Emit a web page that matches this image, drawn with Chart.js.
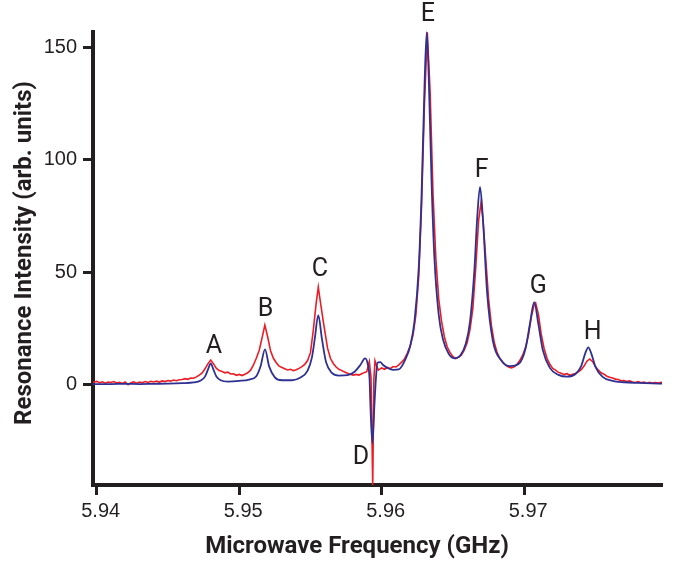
<!DOCTYPE html>
<html>
<head>
<meta charset="utf-8">
<title>Resonance spectrum</title>
<script src="https://cdn.jsdelivr.net/npm/chart.js@4.4.1/dist/chart.umd.min.js"></script>
<style>
  body { margin: 0; background: #fff; }
  canvas { display: block; }
</style>
</head>
<body>
<canvas id="mychart" width="677" height="563"></canvas>
<script>
const xTicks = [5.94, 5.95, 5.96, 5.97];
const yTicks = [0, 50, 100, 150];

// peak letters, placed in data units
const peakNames = ['A', 'B', 'C', 'D', 'E', 'F', 'G', 'H'];
const peakLabelX = [5.94823, 5.95185, 5.95567, 5.95855, 5.96324, 5.96702, 5.97099, 5.97480];
const peakLabelY = [16.8, 33.0, 50.8, -32.8, 164.9, 95.4, 43.4, 22.7];

// smooth (blue) trace
const fitFreq = [
  5.93974, 5.9410, 5.9420, 5.9430, 5.9440, 5.9450, 5.9460, 5.9468, 5.9473, 5.9476,
  5.9478, 5.9480, 5.9482, 5.9484, 5.9487, 5.9492, 5.9500, 5.9507, 5.9512, 5.9515,
  5.95181, 5.9521, 5.9525, 5.9530, 5.9537, 5.9543, 5.9548, 5.9551, 5.9553, 5.95555,
  5.9558, 5.9561, 5.9565, 5.9570, 5.9576, 5.9581, 5.9585, 5.95883, 5.9590, 5.95915,
  5.9592, 5.95934, 5.9595, 5.9596, 5.9597, 5.9599, 5.9601, 5.9604, 5.9608, 5.9612,
  5.9617, 5.9620, 5.9623, 5.9626, 5.9628, 5.9630, 5.96316, 5.9633, 5.9635, 5.9637,
  5.9640, 5.9643, 5.9647, 5.9651, 5.9655, 5.9659, 5.9662, 5.9665, 5.9667, 5.9669,
  5.9671, 5.9674, 5.9678, 5.9684, 5.9690, 5.9696, 5.9701, 5.9704, 5.9707, 5.9710,
  5.9713, 5.9718, 5.9724, 5.9730, 5.9736, 5.9740, 5.9743, 5.9745, 5.9747, 5.9750,
  5.9755, 5.9762, 5.9770, 5.9780, 5.9790, 5.97967
];
const fitVals = [
  0, 0, 0.1, 0, 0.1, 0.2, 0.4, 0.7, 1.6, 3.3,
  6.3, 9.2, 6.3, 3.4, 1.7, 1.1, 1.4, 2.0, 3.5, 7.9,
  15.5, 7.9, 3.0, 1.7, 1.7, 2.9, 6.0, 11.8, 20.0, 30.8,
  20.4, 9.7, 5.0, 3.8, 4.0, 5.5, 8.5, 11.5, 9.5, 2.0,
  -8.0, -26.5, -8.0, 3.0, 9.5, 9.8, 8.5, 7.2, 6.3, 6.5,
  11.5, 17.0, 28.0, 52.0, 85.0, 132.0, 157.0, 137.0, 90.0, 56.0,
  31.0, 20.0, 13.5, 11.5, 12.6, 18.0, 28.0, 50.5, 74.0, 88.0,
  74.0, 40.5, 19.3, 10.5, 8.0, 8.9, 16.0, 26.8, 36.6, 26.5,
  15.3, 7.2, 4.1, 3.3, 4.5, 8.0, 14.0, 16.4, 13.8, 7.7,
  3.2, 1.4, 0.8, 0.5, 0.3, 0.2
];

// measured (red) trace
const measFreq = [
  5.93974, 5.9400, 5.9402, 5.9404, 5.9406, 5.9408, 5.9410, 5.9412, 5.9414, 5.9416,
  5.9418, 5.9420, 5.9422, 5.9424, 5.9426, 5.9428, 5.9430, 5.9432, 5.9434, 5.9436,
  5.9438, 5.9440, 5.9442, 5.9444, 5.9446, 5.9448, 5.9450, 5.9452, 5.9454, 5.9456,
  5.9458, 5.9460, 5.9462, 5.9464, 5.9466, 5.9468, 5.9470, 5.9472, 5.9474, 5.9476,
  5.9478, 5.9480, 5.9482, 5.9484, 5.9486, 5.9488, 5.9490, 5.9492, 5.9494, 5.9496,
  5.9498, 5.9500, 5.9502, 5.9504, 5.9506, 5.9508, 5.9510, 5.9512, 5.9514, 5.9516,
  5.9518, 5.9520, 5.9522, 5.9524, 5.9526, 5.9528, 5.9530, 5.9532, 5.9534, 5.9536,
  5.9538, 5.9540, 5.9542, 5.9544, 5.9546, 5.9548, 5.9550, 5.9552, 5.9554, 5.95555,
  5.9557, 5.9559, 5.9560, 5.9562, 5.9564, 5.9566, 5.9568, 5.9570, 5.9572, 5.9574,
  5.9576, 5.9578, 5.9580, 5.9582, 5.9584, 5.9586, 5.9588, 5.95895, 5.95913, 5.95925,
  5.95937, 5.95945, 5.95953, 5.95965, 5.95976, 5.9600, 5.9602, 5.9604, 5.9606, 5.9608,
  5.9610, 5.9612, 5.9614, 5.9616, 5.9618, 5.9620, 5.9622, 5.9624, 5.9626, 5.9628,
  5.9630, 5.9632, 5.9634, 5.9636, 5.9638, 5.9640, 5.9642, 5.9644, 5.9646, 5.9648,
  5.9650, 5.9652, 5.9654, 5.9656, 5.9658, 5.9660, 5.9662, 5.9664, 5.9666, 5.9668,
  5.96697, 5.9671, 5.9673, 5.9675, 5.9677, 5.9679, 5.9681, 5.9683, 5.9685, 5.9687,
  5.9689, 5.9691, 5.9693, 5.9695, 5.9697, 5.9699, 5.9701, 5.9703, 5.9705, 5.9707,
  5.9708, 5.9710, 5.9712, 5.9714, 5.9716, 5.9718, 5.9720, 5.9722, 5.9724, 5.9726,
  5.9728, 5.9730, 5.9732, 5.9734, 5.9736, 5.9738, 5.9740, 5.9742, 5.9744, 5.9746,
  5.9748, 5.9750, 5.9752, 5.9754, 5.9756, 5.9758, 5.9760, 5.9762, 5.9764, 5.9766,
  5.9768, 5.9770, 5.9772, 5.9774, 5.9776, 5.9778, 5.9780, 5.9782, 5.9784, 5.9786,
  5.9788, 5.9790, 5.9792, 5.9794, 5.9796, 5.97967
];
const measVals = [
  0.8, 1.2, 0.6, 1.0, 0.4, 0.9, 0.7, 1.1, 0.5, 0.8,
  0.3, 0.9, -0.3, 0.6, 1.0, 0.4, 0.9, 0.6, 1.1, 0.7,
  1.2, 0.9, 1.3, 0.9, 1.4, 1.1, 1.6, 1.3, 1.8, 1.5,
  1.9, 2.0, 2.4, 2.1, 2.7, 2.6, 3.2, 4.0, 5.0, 6.8,
  9.0, 10.7, 9.0, 7.0, 6.0, 5.6, 5.0, 5.3, 4.5, 4.6,
  3.9, 4.3, 3.8, 4.4, 5.0, 6.2, 8.5, 11.5, 15.0, 20.5,
  26.3, 21.0, 14.8, 11.5, 9.5, 8.0, 7.4, 6.8, 6.3, 6.6,
  6.0, 6.4, 7.0, 7.8, 8.8, 10.5, 14.0, 24.0, 36.0, 43.2,
  36.5, 28.0, 24.0, 16.0, 11.5, 9.2, 7.6, 6.6, 6.0, 5.4,
  4.8, 4.4, 4.0, 4.3, 4.0, 4.6, 5.2, 5.5, 10.0, 3.0,
  -45.0, 2.0, 10.4, 8.0, 6.2, 7.2, 6.6, 7.4, 6.9, 7.8,
  7.6, 8.6, 9.8, 11.2, 13.8, 17.0, 22.0, 31.0, 48.0, 80.0,
  125.0, 157.0, 130.0, 85.0, 56.0, 38.0, 28.0, 21.0, 16.5, 14.0,
  12.2, 11.4, 12.0, 13.0, 15.2, 18.5, 24.5, 34.0, 52.0, 73.0,
  81.0, 74.0, 56.0, 38.0, 26.0, 18.5, 14.0, 11.4, 9.6, 8.4,
  7.6, 7.2, 7.7, 8.8, 10.6, 13.0, 16.5, 22.0, 30.0, 35.5,
  36.2, 31.0, 22.0, 15.8, 11.5, 8.8, 7.0, 6.2, 5.2, 4.8,
  4.2, 4.6, 3.9, 4.4, 4.7, 5.4, 6.4, 8.0, 10.2, 11.2,
  10.0, 7.8, 6.2, 5.0, 4.4, 3.5, 3.0, 2.7, 2.2, 2.0,
  1.5, 1.6, 1.1, 1.4, 0.9, 0.7, 1.1, 0.6, 0.9, 0.4,
  0.8, 0.4, 0.7, 0.5, 0.8, 0.6
];

const ink = '#231f20';
const ctx = document.getElementById('mychart').getContext('2d');

function toPoints(xs, ys) {
  let pts = [];
  for (let i = 0; i < xs.length; i++) pts.push({ x: xs[i], y: ys[i] });
  return pts;
}

const peakLetters = {
  id: 'peakLetters',
  afterDatasetsDraw(chart) {
    const c = chart.ctx;
    const sx = chart.scales.x, sy = chart.scales.y;
    c.save();
    c.fillStyle = ink;
    c.font = '25px Roboto';
    c.textAlign = 'center';
    c.textBaseline = 'middle';
    for (let i = 0; i < peakNames.length; i++) {
      c.fillText(peakNames[i], sx.getPixelForValue(peakLabelX[i]), sy.getPixelForValue(peakLabelY[i]));
    }
    c.restore();
  }
};

const axisTitles = {
  id: 'axisTitles',
  afterDraw(chart) {
    const c = chart.ctx;
    c.save();
    c.fillStyle = ink;
    c.font = 'bold 24px Roboto';
    c.textAlign = 'center';
    c.textBaseline = 'middle';
    c.fillText('Microwave Frequency (GHz)', 357, 547);
    c.translate(25, 253);
    c.rotate(-Math.PI / 2);
    c.fillText('Resonance Intensity (arb. units)', 0, 0);
    c.restore();
  }
};

const lineClip = { left: 0, top: 5, right: 0, bottom: 0 };

let obj = {
  type: 'line',
  data: {
    datasets: [{
        label: 'fit',
        data: toPoints(fitFreq, fitVals),
        borderColor: '#2e3192',
        borderWidth: 1.8,
        pointRadius: 0,
        cubicInterpolationMode: 'monotone',
        clip: lineClip
      },
      {
        label: 'measured',
        data: toPoints(measFreq, measVals),
        borderColor: '#ed1c24',
        borderWidth: 1.6,
        pointRadius: 0,
        tension: 0,
        clip: lineClip
      }
    ]
  },
  options: {
    responsive: false,
    animation: false,
    devicePixelRatio: 1,
    layout: { padding: { top: 32, right: 15, left: 0, bottom: 0 } },
    plugins: {
      legend: { display: false },
      tooltip: { enabled: false }
    },
    scales: {
      x: {
        type: 'linear',
        min: 5.93974,
        max: 5.97967,
        afterBuildTicks: s => { s.ticks = xTicks.map(v => ({ value: v })); },
        afterFit: s => { s.height = 78; },
        ticks: {
          color: ink,
          font: { family: 'Liberation Sans', size: 20 },
          padding: 4,
          labelOffset: 4,
          maxRotation: 0,
          autoSkip: false,
          callback: v => v.toFixed(2)
        },
        grid: { drawOnChartArea: false, drawTicks: true, tickLength: 10, tickWidth: 3, tickColor: ink },
        border: { display: true, width: 4, color: ink }
      },
      y: {
        min: -45.05,
        max: 157.1,
        afterBuildTicks: s => { s.ticks = yTicks.map(v => ({ value: v })); },
        afterFit: s => { s.width = 93; },
        ticks: {
          color: ink,
          font: { family: 'Liberation Sans', size: 20 },
          padding: 6,
          callback: v => String(v)
        },
        grid: { drawOnChartArea: false, drawTicks: true, tickLength: 10, tickWidth: 3, tickColor: ink },
        border: { display: true, width: 4, color: ink }
      }
    }
  },
  plugins: [peakLetters, axisTitles]
};

let myChart = new Chart(ctx, obj);
</script>
</body>
</html>
